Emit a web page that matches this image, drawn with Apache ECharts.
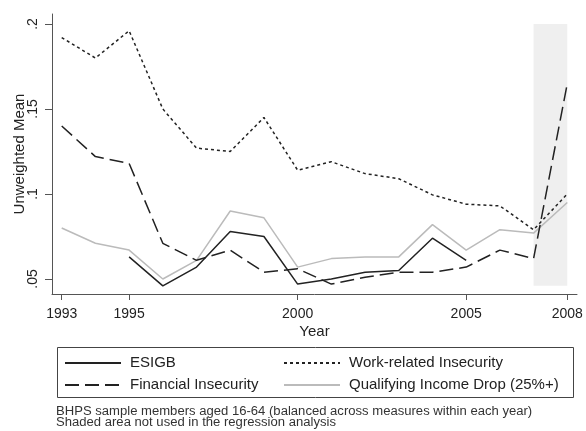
<!DOCTYPE html>
<html>
<head>
<meta charset="utf-8">
<script src="https://cdn.jsdelivr.net/npm/echarts@6/dist/echarts.min.js"></script>
<style>html,body{margin:0;padding:0;background:#fff;}#c{width:586px;height:431px;}</style>
</head>
<body>
<div id="c"></div>
<script>
const years = [1993,1994,1995,1996,1997,1998,1999,2000,2001,2002,2003,2004,2005,2006,2007,2008];
const esigb = [null,null,0.063,0.046,0.057,0.078,0.075,0.047,0.050,0.054,0.055,0.074,0.061,null,null,null];
const financial = [0.140,0.122,0.118,0.071,0.061,0.067,0.054,0.056,0.047,0.051,0.054,0.054,0.057,0.067,0.062,0.165];
const workRelated = [0.192,0.180,0.196,0.150,0.127,0.125,0.145,0.114,0.119,0.112,0.109,0.0995,0.094,0.093,0.079,0.100];
const incomeDrop = [0.080,0.071,0.067,0.050,0.061,0.090,0.086,0.057,0.062,0.063,0.063,0.082,0.067,0.079,0.077,0.095];
const xTicks = [1993,1995,2000,2005,2008];
const yTicks = [0.05,0.1,0.15,0.2];
const yTickLabels = ['.05','.1','.15','.2'];
const shadeYears = [2007,2008];
const shadeRange = [0.046,0.2];
const seriesNames = ['ESIGB','Financial Insecurity','Work-related Insecurity','Qualifying Income Drop (25%+)'];
const noteLines = ['BHPS sample members aged 16-64 (balanced across measures within each year)','Shaded area not used in the regression analysis'];

const pairs = vals => years.map((y,i)=>[y, vals[i]]);
const axisCol = '#555';
const FF = 'Liberation Sans, Arial, sans-serif';
const chart = echarts.init(document.getElementById('c'), null, {renderer:'canvas'});
const legendText = {color:'#222', fontSize:15, fontFamily:FF, lineHeight:18, padding:[0,0,0,4]};
const legendBase = {orient:'vertical',top:354,itemWidth:56,itemHeight:4,itemGap:4,textStyle:legendText,selectedMode:false,padding:0,
  itemStyle:{opacity:0,borderWidth:0}};
chart.setOption({
  animation:false,
  backgroundColor:'#fff',
  grid:{left:52,right:9,top:14,bottom:137,containLabel:false,outerBoundsMode:'none'},
  xAxis:{
    type:'value', min:1992.712, max:2008.288,
    name:'Year', nameLocation:'middle', nameGap:30, nameMoveOverlap:false,
    nameTextStyle:{color:'#222',fontSize:15,fontFamily:FF},
    axisLine:{show:true,onZero:false,lineStyle:{color:axisCol,width:1}},
    axisTick:{show:true,length:6,customValues:xTicks,lineStyle:{color:axisCol}},
    axisLabel:{customValues:xTicks,margin:13,color:'#222',fontSize:14,fontFamily:FF,formatter:v=>String(v)},
    splitLine:{show:false}
  },
  yAxis:{
    type:'value', min:0.04118, max:0.20588,
    name:'Unweighted Mean', nameLocation:'middle', nameGap:25, nameMoveOverlap:false,
    nameTextStyle:{color:'#222',fontSize:15,fontFamily:FF},
    axisLine:{show:true,onZero:false,lineStyle:{color:axisCol,width:1}},
    axisTick:{show:true,length:7,customValues:yTicks,lineStyle:{color:axisCol}},
    axisLabel:{customValues:yTicks,rotate:90,margin:12,color:'#222',fontSize:14,fontFamily:FF,
      formatter:v=>{const i=yTicks.findIndex(t=>Math.abs(t-v)<1e-9);return i>=0?yTickLabels[i]:'';}},
    splitLine:{show:false}
  },
  legend:[
    Object.assign({data:[seriesNames[0],seriesNames[1]],left:64}, legendBase),
    Object.assign({data:[seriesNames[2],seriesNames[3]],left:283}, legendBase)
  ],
  graphic:[
    {type:'rect',shape:{x:57.5,y:347.5,width:516,height:50},style:{fill:'none',stroke:'#444',lineWidth:1},silent:true},
    {type:'text',x:56,y:406,scaleX:1.09,scaleY:1,silent:true,
      style:{text:noteLines.join('\n'),fill:'#333',font:'12px '+FF,lineHeight:11,textVerticalAlign:'top'}}
  ],
  series:[
    {type:'line',name:'shade',data:[],z:1,silent:true,
      markArea:{silent:true,itemStyle:{color:'#efefef'},data:[[{coord:[shadeYears[0],shadeRange[0]]},{coord:[shadeYears[1],shadeRange[1]]}]]}},
    {type:'line',name:seriesNames[0],data:pairs(esigb),z:3,symbol:'none',lineStyle:{color:'#222',width:1.5,type:'solid'},itemStyle:{color:'#222'}},
    {type:'line',name:seriesNames[1],data:pairs(financial),z:3,symbol:'none',lineStyle:{color:'#222',width:1.5,type:[14,6]},itemStyle:{color:'#222'}},
    {type:'line',name:seriesNames[2],data:pairs(workRelated),z:3,symbol:'none',lineStyle:{color:'#222',width:1.5,type:[3,3]},itemStyle:{color:'#222'}},
    {type:'line',name:seriesNames[3],data:pairs(incomeDrop),z:2,symbol:'none',lineStyle:{color:'#bbb',width:1.5,type:'solid'},itemStyle:{color:'#bbb'}}
  ]
});
</script>
</body>
</html>
